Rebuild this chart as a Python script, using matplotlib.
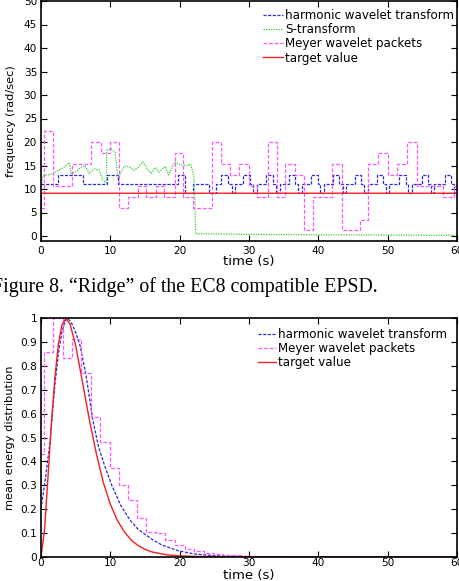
import numpy as np
import matplotlib.pyplot as plt

# top panel: "ridge" of the EPSD, frequency (rad/sec) vs time (s)
ridge_target_t = [0, 0.05, 60]
ridge_target_f = [0, 9.1, 9.1]

ridge_hwt_t = [0, 2.5, 6.1, 9.5, 11.1, 19.8, 20.8, 21.9, 24.2, 25.3, 26.0, 27.0, 27.5, 28.0,
               29.2, 30.1, 30.6, 31.1, 32.5, 33.4, 33.9, 34.4, 35.8, 36.7, 37.1, 37.6,
               39.0, 39.9, 40.3, 40.8, 42.1, 43.0, 43.5, 44.0, 45.3, 46.2, 46.6, 47.1,
               48.5, 49.3, 49.7, 50.2, 51.7, 52.6, 53.0, 53.5, 54.9, 55.8, 56.2, 56.7,
               58.2, 59.1, 59.5, 60]
ridge_hwt_f = [11, 13, 11, 13, 11, 13, 9.1, 11, 9.1, 11, 13, 11, 9.1, 11,
               13, 11, 9.1, 11, 13, 11, 9.1, 11, 13, 11, 9.1, 11,
               13, 11, 9.1, 11, 13, 11, 9.1, 11, 13, 11, 9.1, 11,
               13, 11, 9.1, 11, 13, 11, 9.1, 11, 13, 11, 9.1, 11,
               13, 11, 9.1, 9.1]

ridge_st_t = [0, 0.3, 1.0, 1.8, 2.5, 3.2, 4.1, 4.35, 5.0, 5.5, 6.3, 7.0, 7.7, 8.4, 8.9,
              9.4, 9.5, 10.1, 10.7, 11.1, 12.0, 12.6, 13.4, 14.0, 14.7, 15.4, 15.9,
              16.5, 17.0, 17.9, 18.4, 19.3, 20.2, 21.0, 21.6, 22.1, 22.3, 30, 40, 50, 60]
ridge_st_f = [10.3, 12.9, 13.0, 13.3, 14.0, 14.5, 15.6, 13.3, 13.6, 14.3, 15.0, 13.3,
              14.3, 14.0, 11.9, 11.3, 18.3, 18.5, 17.8, 12.3, 14.8, 14.8, 14.0, 14.6,
              15.8, 14.1, 13.3, 14.6, 13.6, 14.8, 13.0, 15.8, 15.1, 15.0, 15.3, 12.2,
              0.5, 0.35, 0.25, 0.2, 0.15]

ridge_meyer_t = [0, 0.45, 1.73, 4.4, 7.2, 8.7, 9.9, 11.3, 12.5, 14.0, 15.2, 16.6, 17.8,
                 19.3, 20.5, 21.9, 24.6, 25.9, 27.2, 28.5, 30.0, 31.2, 32.8, 34.1, 35.2,
                 36.6, 37.9, 39.3, 42.0, 43.4, 46.0, 47.2, 48.6, 50.1, 51.3, 52.8, 54.2,
                 58.0, 59.5, 60]
ridge_meyer_f = [5.9, 22.4, 10.6, 15.3, 20.0, 17.6, 20.0, 5.9, 8.2, 10.6, 8.2, 10.6, 8.2,
                 17.6, 8.2, 5.9, 20.0, 15.3, 13.0, 15.3, 10.6, 8.2, 20.0, 8.2, 15.3,
                 13.0, 1.2, 8.2, 15.3, 1.2, 3.5, 15.3, 17.6, 13.0, 15.3, 20.0, 10.6,
                 8.2, 10.6, 10.6]

# bottom panel: mean energy distribution vs time (s)
energy_target_t = [0, 0.5, 1, 1.5, 2, 2.5, 3, 3.6, 4.2, 5, 6, 7, 8, 9, 10, 11, 12, 13, 14,
                   15, 16, 18, 20, 22, 25, 30, 60]
energy_target_e = [0, 0.11, 0.33, 0.56, 0.75, 0.89, 0.97, 1.0, 0.975, 0.886, 0.73, 0.57,
                   0.43, 0.31, 0.22, 0.153, 0.105, 0.07, 0.047, 0.031, 0.02, 0.0084,
                   0.0034, 0.0014, 0.0003, 0.0, 0]

energy_hwt_t = [0, 0.6, 1.3, 2.0, 2.5, 3.0, 3.5, 3.9, 4.5, 5.0, 5.6, 6.5, 7.5, 8.3, 9.2,
                10.2, 11.5, 12.8, 14.0, 15.9, 17.5, 19.8, 22.0, 25.0, 28.0, 32, 60]
energy_hwt_e = [0.2, 0.32, 0.48, 0.72, 0.85, 0.94, 0.99, 1.0, 0.975, 0.94, 0.89, 0.76,
                0.57, 0.46, 0.38, 0.30, 0.215, 0.155, 0.115, 0.075, 0.048, 0.025, 0.012,
                0.004, 0.0012, 0.0002, 0]

energy_meyer_t = [0, 0.5, 1.73, 3.17, 4.4, 5.8, 7.25, 8.5, 9.9, 11.2, 12.6, 13.9, 15.2,
                  16.6, 17.9, 19.3, 20.7, 22.1, 23.5, 24.9, 26.3, 27.7, 29.0, 30.5, 32, 35, 60]
energy_meyer_e = [0.43, 0.86, 1.0, 0.835, 0.913, 0.77, 0.585, 0.483, 0.37, 0.302, 0.238,
                  0.161, 0.105, 0.098, 0.07, 0.047, 0.033, 0.024, 0.017, 0.012, 0.009,
                  0.006, 0.004, 0.002, 0.001, 0, 0]

time_ticks = [0, 10, 20, 30, 40, 50, 60]
freq_ticks = [0, 5, 10, 15, 20, 25, 30, 35, 40, 45, 50]
energy_ticks = [0, 0.1, 0.2, 0.3, 0.4, 0.5, 0.6, 0.7, 0.8, 0.9, 1]
energy_ticklabels = ['0', '0.1', '0.2', '0.3', '0.4', '0.5', '0.6', '0.7', '0.8', '0.9', '1']

caption = 'Figure 8. \u201cRidge\u201d of the EC8 compatible EPSD.'

blue = '#2b2bd6'
green = '#33cc33'
pink = '#ff55ff'
red = '#ee2020'


def style_axes(ax, xpad):
    ax.set_xlim(0, 60)
    ax.set_xticks(time_ticks)
    ax.tick_params(direction='in', top=True, right=True, length=4, width=0.8,
                   labelsize=7.6, pad=2.8)
    ax.tick_params(axis='x', pad=xpad)
    for s in ax.spines.values():
        s.set_linewidth(1.2)
        s.set_color('black')


def main():
    fig = plt.figure(figsize=(4.59, 5.81), dpi=100)

    # top panel
    ax1 = fig.add_axes([41 / 459, (581 - 240.7) / 581, 416 / 459, 239.7 / 581])
    ax1.step(ridge_hwt_t, ridge_hwt_f, where='post', color=blue, lw=0.9,
             dashes=(2.5, 1.2), label='harmonic wavelet transform')
    ax1.plot(ridge_st_t, ridge_st_f, color=green, lw=0.9, dashes=(1, 1), label='S-transform')
    ax1.step(ridge_meyer_t, ridge_meyer_f, where='post', color=pink, lw=0.9,
             dashes=(3, 1.5), label='Meyer wavelet packets')
    ax1.plot(ridge_target_t, ridge_target_f, color=red, lw=1.0, label='target value')
    ax1.set_ylim(-1, 50)
    ax1.set_yticks(freq_ticks)
    style_axes(ax1, 3.8)
    ax1.set_xlabel('time (s)', fontsize=9.5)
    ax1.xaxis.set_label_coords(0.5, -0.058)
    ax1.set_ylabel('frequency (rad/sec)', fontsize=8.2)
    ax1.yaxis.set_label_coords(-0.06, 0.5)
    ax1.legend(loc='upper left', bbox_to_anchor=(263 / 459, 1 - 9 / 581),
               bbox_transform=fig.transFigure, frameon=False, fontsize=8.6,
               borderpad=0, borderaxespad=0, handlelength=1.7, handletextpad=0.15,
               labelspacing=0.1)

    fig.text(-8 / 459, 1 - 287 / 581, caption, ha='left', va='center',
             family='Liberation Serif', fontsize=14.3)

    # bottom panel
    ax2 = fig.add_axes([41 / 459, (581 - 556.7) / 581, 416 / 459, 238.4 / 581])
    ax2.plot(energy_hwt_t, energy_hwt_e, color=blue, lw=0.9, dashes=(2.5, 1.2),
             label='harmonic wavelet transform')
    ax2.step(energy_meyer_t, energy_meyer_e, where='post', color=pink, lw=0.9,
             dashes=(3, 1.5), label='Meyer wavelet packets')
    ax2.plot(energy_target_t, energy_target_e, color=red, lw=1.0, label='target value')
    ax2.set_ylim(0, 1)
    ax2.set_yticks(energy_ticks)
    ax2.set_yticklabels(energy_ticklabels)
    style_axes(ax2, 1.2)
    ax2.set_xlabel('time (s)', fontsize=9.5)
    ax2.xaxis.set_label_coords(0.5, -0.052)
    ax2.set_ylabel('mean energy distribution', fontsize=8.2)
    ax2.yaxis.set_label_coords(-0.0625, 0.5)
    ax2.legend(loc='upper left', bbox_to_anchor=(258 / 459, 1 - 328 / 581),
               bbox_transform=fig.transFigure, frameon=False, fontsize=8.6,
               borderpad=0, borderaxespad=0, handlelength=1.5, handletextpad=0.15,
               labelspacing=0.1)

    fig.savefig('out.png', dpi=100)


main()
